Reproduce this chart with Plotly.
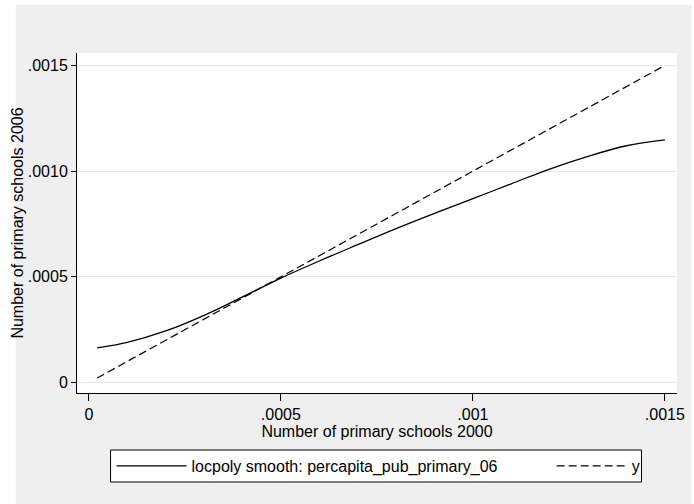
import plotly.graph_objects as go

# Data
smooth_x = [0.0000216, 0.0001, 0.0002, 0.0003, 0.0004, 0.0005, 0.0006, 0.0007,
            0.0008, 0.0009, 0.0010, 0.0011, 0.0012, 0.0013, 0.0014, 0.0015]
smooth_y = [0.000164, 0.000190, 0.000244, 0.000318, 0.000405, 0.000494, 0.000575, 0.000652,
            0.000728, 0.000800, 0.000870, 0.000940, 0.001010, 0.001070, 0.001120, 0.001148]
diag_x = [0.0000216, 0.0015]
diag_y = [0.0000216, 0.0015]

x_tickvals = [0, 0.0005, 0.001, 0.0015]
x_ticktext = ["0", ".0005", ".001", ".0015"]
y_tickvals = [0, 0.0005, 0.001, 0.0015]
y_ticktext = ["0", ".0005", ".0010", ".0015"]

FONT = "Liberation Sans, Arial, sans-serif"
BG = "#efefef"
FS = 16

fig = go.Figure()
fig.add_trace(go.Scatter(x=smooth_x, y=smooth_y, mode="lines",
                         line=dict(color="black", width=1.3, shape="spline"),
                         name="locpoly smooth: percapita_pub_primary_06", legend="legend"))
fig.add_trace(go.Scatter(x=diag_x, y=diag_y, mode="lines",
                         line=dict(color="black", width=1.2, dash="8px,4px"),
                         name="y", legend="legend2"))

W, H = 694, 504
ml, mr, mt, mb = 77, 9, 53, 111
pw, ph = W - ml - mr, H - mt - mb

def px2x(p):
    return (p - ml) / pw

def py2y(p):
    return (H - mb - p) / ph

shapes = [
    dict(type="rect", xref="paper", yref="paper", layer="below",
         x0=px2x(15), x1=px2x(700), y0=py2y(5), y1=py2y(510),
         fillcolor=BG, line=dict(width=0)),
    dict(type="rect", xref="paper", yref="paper", layer="below",
         x0=0, x1=1, y0=0, y1=1, fillcolor="white", line=dict(width=0)),
    dict(type="rect", xref="paper", yref="paper", layer="below",
         x0=px2x(111), x1=px2x(649), y0=py2y(450), y1=py2y(482),
         fillcolor="white", line=dict(color="black", width=1)),
]

leg_common = dict(orientation="h", yanchor="middle", y=py2y(466), xanchor="left",
                  bgcolor="rgba(0,0,0,0)", borderwidth=0,
                  font=dict(size=FS), itemwidth=70)

fig.update_layout(
    width=W, height=H,
    margin=dict(l=ml, r=mr, t=mt, b=mb),
    paper_bgcolor="white",
    plot_bgcolor="rgba(0,0,0,0)",
    font=dict(family=FONT, size=FS, color="black"),
    shapes=shapes,
    showlegend=True,
    legend=dict(x=px2x(112), **leg_common),
    legend2=dict(x=px2x(558), **leg_common),
    xaxis=dict(range=[-0.0000309, 0.0015316], tickvals=x_tickvals, ticktext=x_ticktext,
               showgrid=False, zeroline=False, showline=True, linecolor="black", linewidth=1,
               ticks="outside", ticklen=7, tickcolor="black", tickfont=dict(size=FS),
               title=dict(text="Number of primary schools 2000", standoff=1,
                          font=dict(size=FS))),
    yaxis=dict(range=[-0.0000493, 0.0015587], tickvals=y_tickvals, ticktext=y_ticktext,
               showgrid=True, gridcolor="#e8e8e8", gridwidth=1, zeroline=False,
               showline=True, linecolor="black", linewidth=1,
               ticks="outside", ticklen=5, tickcolor="black", tickfont=dict(size=FS),
               title=dict(text="Number of primary schools 2006", standoff=0,
                          font=dict(size=FS))),
)

fig.write_html("out.html", config={"displayModeBar": False},
               post_script="document.body.style.margin='0px';document.body.style.padding='0px';")
